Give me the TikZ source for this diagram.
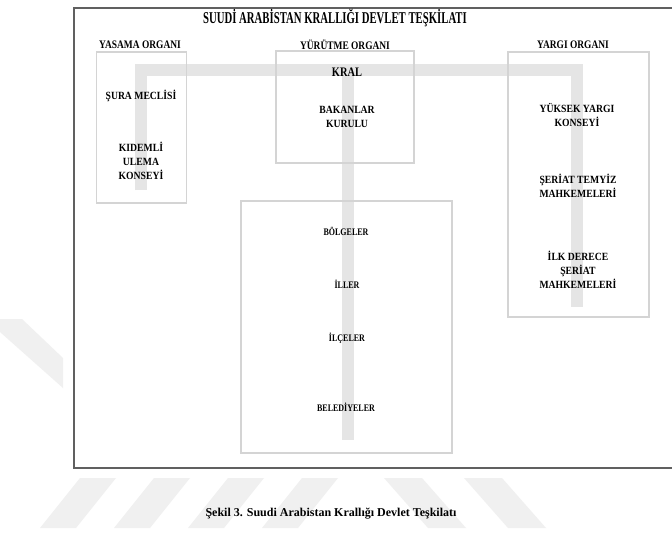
\documentclass[tikz,border=0pt]{standalone}
\usepackage{fontspec}
\setmainfont{Liberation Serif}
\newfontfamily\titlef[FakeStretch=0.65]{Liberation Serif}
\newfontfamily\orgf[FakeStretch=0.82]{Liberation Serif}
\newfontfamily\kralf[FakeStretch=0.8]{Liberation Serif}
\newfontfamily\boxf[FakeStretch=0.88]{Liberation Serif}
\newfontfamily\lowf[FakeStretch=0.8]{Liberation Serif}
\definecolor{framec}{HTML}{606060}
\definecolor{boxc}{HTML}{D4D4D4}
\definecolor{bandc}{HTML}{E5E5E5}
\definecolor{wmc}{HTML}{F0F0F0}
\begin{document}
\begin{tikzpicture}[x=1pt,y=-1pt,
  orgbox/.style={draw=boxc, line width=1.6pt, inner sep=0pt, minimum width=#1},
  band/.style={draw=bandc, line width=12pt, line join=miter, line cap=butt},
  frameline/.style={draw=framec, line width=1.3pt},
  wm/.style={fill=wmc, draw=none},
  titletext/.style={font=\titlef\bfseries\fontsize{16.5}{17}\selectfont, inner sep=0pt},
  orgtext/.style={font=\orgf\bfseries\fontsize{11.5}{12}\selectfont, inner sep=0pt},
  kraltext/.style={font=\kralf\bfseries\fontsize{13}{14}\selectfont, inner sep=0pt},
  boxtext/.style={font=\boxf\bfseries\fontsize{11}{14}\selectfont, align=center, inner sep=0pt},
  lowtext/.style={font=\lowf\bfseries\fontsize{10}{12}\selectfont, inner sep=0pt},
  captext/.style={font=\bfseries\fontsize{12}{14}\selectfont, inner sep=0pt}
]
\useasboundingbox (0,0) rectangle (672,535);
\fill[white] (0,0) rectangle (672,535);

% watermark
\path[wm] (0,319) -- (22,319) -- (63,358) -- (63,388) -- (0,332) -- cycle;
\path[wm] (80,478) -- (116,478) -- (76,528) -- (40,528) -- cycle;
\path[wm] (154,478) -- (190,478) -- (150,528) -- (114,528) -- cycle;
\path[wm] (228,478) -- (264,478) -- (224,528) -- (188,528) -- cycle;
\path[wm] (302,478) -- (338,478) -- (298,528) -- (262,528) -- cycle;
\path[wm] (384,478) -- (422,478) -- (466,528) -- (428,528) -- cycle;
\path[wm] (464,478) -- (502,478) -- (546,528) -- (508,528) -- cycle;

% outer frame (open on the right)
\draw[frameline] (672,8) -- (74,8) -- (74,468) -- (672,468);

% band connectors
\coordinate (bl) at (141,190);
\coordinate (tl) at (141,70.5);
\coordinate (tm) at (347.5,70.5);
\coordinate (tr) at (576.5,70.5);
\coordinate (br) at (576.5,307);
\coordinate (bm) at (347.5,440);
\draw[band] (bl) -- (tl) -- (tr) -- (br);
\draw[band] (tm) -- (bm);

% boxes
\node[orgbox=90pt, minimum height=151pt] (leg) at (141.5,127.5) {};
\node[orgbox=138pt, minimum height=112pt] (exe) at (345,107) {};
\node[orgbox=141pt, minimum height=265pt] (jud) at (578.5,184.5) {};
\node[orgbox=211pt, minimum height=252pt] (loc) at (346.5,327) {};

% headings
\node[titletext] (title) at (335,18) {SUUDİ ARABİSTAN KRALLIĞI DEVLET TEŞKİLATI};
\node[orgtext] (h1) at (140,45) {YASAMA ORGANI};
\node[orgtext] (h2) at (345,44.5) {YÜRÜTME ORGANI};
\node[orgtext] (h3) at (573,45) {YARGI ORGANI};

% texts
\node[boxtext] (sura) at (141,96) {ŞURA MECLİSİ};
\node[boxtext] (ulema) at (141,161) {KIDEMLİ\\ULEMA\\KONSEYİ};
\node[kraltext] (kral) at (347,72) {KRAL};
\node[boxtext] (bak) at (347,116.5) {BAKANLAR\\KURULU};
\node[boxtext] (yyk) at (577,114.5) {YÜKSEK YARGI\\KONSEYİ};
\node[boxtext] (stm) at (578,186) {ŞERİAT TEMYİZ\\MAHKEMELERİ};
\node[boxtext] (idsm) at (578,270) {İLK DERECE\\ŞERİAT\\MAHKEMELERİ};
\node[lowtext] (bol) at (346,231) {BÖLGELER};
\node[lowtext] (il) at (347,284) {İLLER};
\node[lowtext] (ilce) at (347,338) {İLÇELER};
\node[lowtext] (bel) at (346,407) {BELEDİYELER};

% caption
\node[captext] (cap) at (331,514) {Şekil 3. Suudi Arabistan Krallığı Devlet Teşkilatı};
\end{tikzpicture}
\end{document}
